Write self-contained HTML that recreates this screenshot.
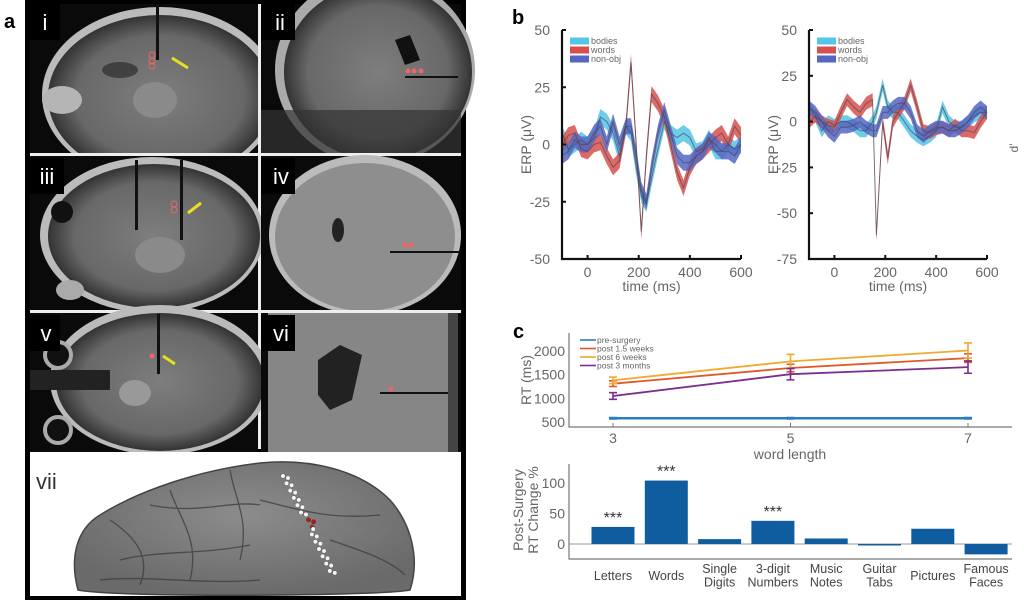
<!DOCTYPE html>
<html><head><meta charset="utf-8"><style>
html,body{margin:0;padding:0;background:#fff;}
svg{display:block;font-family:"Liberation Sans",sans-serif;}
</style></head><body>
<svg id="fig" width="1024" height="604" viewBox="0 0 1024 604" xmlns="http://www.w3.org/2000/svg">
<defs>
<radialGradient id="mriG" cx="50%" cy="50%" r="50%"><stop offset="0" stop-color="#7e7e7e"/><stop offset="0.75" stop-color="#686868"/><stop offset="1" stop-color="#333"/></radialGradient>
<radialGradient id="surfG" cx="50%" cy="40%" r="60%"><stop offset="0" stop-color="#8c8c8c"/><stop offset="1" stop-color="#6a6a6a"/></radialGradient>
</defs>

<g>
<text x="4" y="28" font-size="20" font-weight="bold">a</text>
<rect x="25" y="0" width="441" height="600" fill="#000"/>
<g>
<rect x="30" y="4" width="228" height="149" fill="#0a0a0a"/>
<ellipse cx="160" cy="95" rx="118" ry="88" fill="#bbb"/>
<ellipse cx="160" cy="97" rx="112" ry="82" fill="url(#mriG)"/>
<ellipse cx="62" cy="100" rx="20" ry="14" fill="#b5b5b5"/>
<ellipse cx="120" cy="70" rx="18" ry="8" fill="#222" opacity="0.6"/>
<ellipse cx="155" cy="100" rx="22" ry="18" fill="#8a8a8a"/>
<rect x="156" y="5" width="3" height="55" fill="#111"/>
<circle cx="152" cy="55" r="3" fill="none" stroke="#e66"/><circle cx="152" cy="61" r="3" fill="none" stroke="#e66"/><circle cx="152" cy="66" r="3" fill="none" stroke="#e66"/>
<line x1="172" y1="58" x2="188" y2="68" stroke="#e5e020" stroke-width="3"/>
<rect x="30" y="4" width="30" height="36" fill="#000"/><text x="45" y="30" fill="#fff" font-size="22" text-anchor="middle">i</text>
</g>
<g>
<rect x="261" y="4" width="200" height="149" fill="#0a0a0a"/>
<ellipse cx="375" cy="70" rx="100" ry="95" fill="#aaa"/>
<ellipse cx="378" cy="72" rx="94" ry="88" fill="url(#mriG)"/>
<rect x="261" y="110" width="200" height="43" fill="#333" opacity="0.7"/>
<path d="M395 40 L410 35 L420 60 L405 65 Z" fill="#111"/>
<line x1="405" y1="77" x2="458" y2="77" stroke="#111" stroke-width="2"/>
<circle cx="408" cy="71" r="2.5" fill="#e66"/><circle cx="414" cy="71" r="2.5" fill="#e66"/><circle cx="421" cy="71" r="2.5" fill="#e66"/>
<rect x="261" y="4" width="34" height="36" fill="#000"/><text x="280" y="30" fill="#fff" font-size="22" text-anchor="middle">ii</text>
</g>
<rect x="30" y="153" width="431" height="3" fill="#eee"/>
<rect x="258" y="4" width="3" height="445" fill="#eee"/>
<g>
<rect x="30" y="156" width="228" height="154" fill="#0a0a0a"/>
<ellipse cx="152" cy="235" rx="112" ry="78" fill="#bbb"/>
<ellipse cx="154" cy="236" rx="106" ry="72" fill="url(#mriG)"/>
<circle cx="62" cy="212" r="11" fill="#111"/><ellipse cx="70" cy="290" rx="14" ry="10" fill="#aaa"/>
<ellipse cx="160" cy="255" rx="25" ry="18" fill="#8a8a8a"/>
<rect x="135" y="160" width="3" height="70" fill="#111"/><rect x="180" y="160" width="3" height="80" fill="#111"/>
<circle cx="174" cy="204" r="3" fill="none" stroke="#e66"/><circle cx="174" cy="210" r="3" fill="none" stroke="#e66"/>
<line x1="188" y1="213" x2="201" y2="203" stroke="#e5e020" stroke-width="3"/>
<rect x="30" y="158" width="34" height="36" fill="#000"/><text x="47" y="184" fill="#fff" font-size="22" text-anchor="middle">iii</text>
</g>
<g>
<rect x="261" y="156" width="200" height="154" fill="#0a0a0a"/>
<ellipse cx="365" cy="235" rx="96" ry="80" fill="#bbb"/>
<ellipse cx="365" cy="237" rx="90" ry="74" fill="#8e8e8e"/>
<ellipse cx="338" cy="230" rx="6" ry="12" fill="#222"/>
<line x1="390" y1="252" x2="460" y2="252" stroke="#111" stroke-width="2"/>
<circle cx="405" cy="245" r="2.5" fill="#e66"/><circle cx="411" cy="245" r="2.5" fill="#e66"/>
<rect x="261" y="158" width="34" height="36" fill="#000"/><text x="281" y="184" fill="#fff" font-size="22" text-anchor="middle">iv</text>
</g>
<rect x="30" y="310" width="431" height="3" fill="#eee"/>
<g>
<rect x="30" y="313" width="228" height="139" fill="#0a0a0a"/>
<ellipse cx="160" cy="380" rx="110" ry="75" fill="#bbb"/>
<ellipse cx="160" cy="382" rx="104" ry="69" fill="url(#mriG)"/>
<circle cx="58" cy="355" r="13" fill="#111" stroke="#aaa" stroke-width="4"/><circle cx="58" cy="430" r="13" fill="#111" stroke="#aaa" stroke-width="4"/>
<rect x="30" y="370" width="80" height="20" fill="#222"/>
<ellipse cx="135" cy="393" rx="16" ry="13" fill="#999"/>
<rect x="157" y="314" width="3" height="60" fill="#111"/>
<circle cx="152" cy="356" r="2.5" fill="#e66"/>
<line x1="163" y1="356" x2="175" y2="364" stroke="#e5e020" stroke-width="3"/>
<rect x="30" y="315" width="30" height="36" fill="#000"/><text x="46" y="341" fill="#fff" font-size="22" text-anchor="middle">v</text>
</g>
<g>
<rect x="261" y="313" width="200" height="139" fill="#0a0a0a"/>
<rect x="268" y="313" width="180" height="139" fill="#868686"/>
<path d="M318 360 L340 345 L362 355 L352 400 L330 410 L318 395 Z" fill="#222"/>
<line x1="380" y1="393" x2="455" y2="393" stroke="#111" stroke-width="2"/>
<circle cx="391" cy="389" r="2.5" fill="#e66"/>
<rect x="448" y="313" width="10" height="139" fill="#444"/>
<rect x="261" y="315" width="34" height="36" fill="#000"/><text x="281" y="341" fill="#fff" font-size="22" text-anchor="middle">vi</text>
</g>
<g>
<rect x="30" y="452" width="431" height="144" fill="#fff"/>
<path d="M78 590 C70 560 75 530 100 515 C140 490 200 470 260 463 C310 458 360 470 390 500 C412 525 420 560 410 590 C380 596 120 598 78 590 Z" fill="url(#surfG)" stroke="#444" stroke-width="1.5"/>
<path d="M110 520 C140 540 150 560 140 585 M170 490 C180 520 200 540 190 580 M230 470 C235 500 250 520 240 560 M120 560 C160 550 200 555 250 545 M260 500 C300 510 330 520 380 515 M330 540 C360 550 390 560 405 575 M150 505 C200 515 230 500 260 505 M100 580 C150 575 200 585 260 580" fill="none" stroke="#3f3f3f" stroke-width="1.3" opacity="0.8"/>
<g id="dots"></g>
<text x="36" y="489" font-size="22" fill="#333">vii</text>
</g>
</g>

<text x="512" y="24" font-size="20" font-weight="bold">b</text>
<g id="erpL"></g>
<g id="erpR"></g>
<text x="1018" y="148" font-size="12" fill="#666" transform="rotate(-90 1018 148)" text-anchor="middle">d'</text>

<text x="513" y="338" font-size="20" font-weight="bold">c</text>
<g id="rtChart"></g>
<g id="barChart"></g>
</svg>

<script>
const erpTimesL = [-100,-75,-50,-25,0,25,50,75,100,125,150,170,190,210,230,250,275,300,325,350,375,400,425,450,475,500,525,550,575,600];
const erpBodiesL = [5,-2,0,2,0,3,12,10,5,-5,8,5,-10,-22,-26,-15,-2,10,5,3,5,3,-3,-2,3,-3,-3,0,-2,0];
const erpWordsL = [0,4,5,-2,-3,0,1,-5,-10,-7,8,36,0,-38,-5,22,18,12,0,-12,-19,-10,-5,-3,0,3,5,0,8,4];
const erpNonobjL = [-5,-3,2,0,0,5,8,0,10,0,8,8,-5,-20,-25,-10,5,15,5,-5,-8,-8,-5,-3,2,0,-3,-3,-5,0];
const erpTimesR = [-100,-75,-50,-25,0,25,50,75,100,125,150,165,190,210,230,250,275,300,325,350,375,400,425,450,475,500,525,550,575,600];
const erpBodiesR = [8,3,-5,0,-2,0,0,-2,-5,-5,0,5,20,8,5,5,0,-5,-8,-10,-8,-5,8,0,-3,-3,0,3,5,5];
const erpWordsR = [0,3,0,-2,-3,5,12,8,5,10,12,-62,0,-20,0,5,10,20,8,-5,-6,-4,-3,-5,-2,-5,-5,-6,0,5];
const erpNonobjR = [8,5,0,-5,-8,-3,-3,-2,0,-3,-5,-5,5,5,8,10,10,5,-5,-8,-5,-3,-3,-5,-5,-3,0,5,8,5];
const erpXTicks = [0,200,400,600];
const erpYTicksL = [-50,-25,0,25,50];
const erpYTicksR = [-75,-50,-25,0,25,50];
const erpLegend = ["bodies","words","non-obj"];

const wordLengths = [3,5,7];
const rtPre = [580,580,580];
const rtPost15w = [1310,1640,1850];
const rtPost6w = [1380,1780,2010];
const rtPost3m = [1050,1510,1660];
const errPost15w = [60,80,90];
const errPost6w = [70,150,160];
const errPost3m = [70,120,130];
const rtYTicks = [500,1000,1500,2000];
const rtLegend = ["pre-surgery","post 1.5 weeks","post 6 weeks","post 3 months"];

const barCategories = [["Letters"],["Words"],["Single","Digits"],["3-digit","Numbers"],["Music","Notes"],["Guitar","Tabs"],["Pictures"],["Famous","Faces"]];
const barValues = [28,104,8,38,9,-2,25,-17];
const barStars = ["***","***","","***","","","",""];
const barYTicks = [0,50,100];

const NS="http://www.w3.org/2000/svg";
function mk(parent,tag,attrs,text){const e=document.createElementNS(NS,tag);for(const k in attrs)e.setAttribute(k,attrs[k]);if(text!==undefined)e.textContent=text;parent.appendChild(e);return e;}

(function(){
  const g=document.getElementById('dots');
  for(let i=0;i<14;i++){
    for(let j=0;j<2;j++){
      const x=283+i*3.6+j*5, y=476+i*7.3+(j?2:0);
      const red=(i===6&&j===0)||(i===6&&j===1)||(i===7&&j===0);
      const c=mk(g,'circle',{cx:x+(red?4:0),cy:y,r:2.3,fill:red?'#b01a10':'#f4f4f4',stroke:'#555','stroke-width':0.5});
      
      
    }
  }
})();

const COL={bodies:'#55c6e6',words:'#d8504e',nonobj:'#5566c4'};

function erpChart(gid,times,series,yTicks,x0,x1,yTop,yBot,vTop,vBot,ylabX,tickX){
  const g=document.getElementById(gid);
  const xs=t=>x0+(t+100)*(x1-x0)/700;
  const ys=v=>yTop+(vTop-v)*(yBot-yTop)/(vTop-vBot);
  const names=['bodies','words','nonobj'];
  series.forEach((vals,si)=>{
    const c=COL[names[si]];
    let up='',dn='';
    vals.forEach((v,i)=>{up+=(i?'L':'M')+xs(times[i]).toFixed(1)+' '+ys(v+3.5).toFixed(1)+' ';});
    for(let i=vals.length-1;i>=0;i--)dn+='L'+xs(times[i]).toFixed(1)+' '+ys(vals[i]-3.5).toFixed(1)+' ';
    const band=mk(g,'path',{d:up+dn+'Z',fill:c,opacity:0.85,'stroke-linejoin':'round'});
    
    
  });
  series.forEach((vals,si)=>{
    let d='';vals.forEach((v,i)=>{d+=(i?'L':'M')+xs(times[i]).toFixed(1)+' '+ys(v).toFixed(1)+' ';});
    const ln=mk(g,'path',{d:d,fill:'none',stroke:'#4a4a5a','stroke-width':1,opacity:0.7});
    
    
  });
  const ax=mk(g,'path',{d:`M${x0} ${yTop} L${x0} ${yBot} L${x1} ${yBot}`,fill:'none',stroke:'#111','stroke-width':2.2});
  
  
  yTicks.forEach(v=>{
    mk(g,'line',{x1:x0,x2:x0+4,y1:ys(v),y2:ys(v),stroke:'#111','stroke-width':2});
    const t=mk(g,'text',{x:tickX,y:ys(v)+5,'font-size':14,fill:'#666','text-anchor':'end'},String(v));
    
    
  });
  erpXTicks.forEach(v=>{
    mk(g,'line',{x1:xs(v),x2:xs(v),y1:yBot,y2:yBot-4,stroke:'#111','stroke-width':2});
    const t=mk(g,'text',{x:xs(v),y:yBot+18,'font-size':14,fill:'#666','text-anchor':'middle'},String(v));
    
    
  });
  const xl=mk(g,'text',{x:(x0+x1)/2,y:yBot+32,'font-size':14,fill:'#666','text-anchor':'middle'},'time (ms)');
  
  
  const cy=(yTop+yBot)/2;
  const yl=mk(g,'text',{x:ylabX,y:cy,'font-size':14,fill:'#666','text-anchor':'middle',transform:`rotate(-90 ${ylabX} ${cy})`},'ERP (μV)');
  
  
  erpLegend.forEach((n,i)=>{
    const y=yTop+11+i*9;
    const r=mk(g,'rect',{x:x0+8,y:y-3.5,width:19,height:7,fill:COL[names[i]]});
    
    
    const t=mk(g,'text',{x:x0+29,y:y+3,'font-size':9,fill:'#666'},n);
    
    
  });
}
erpChart('erpL',erpTimesL,[erpBodiesL,erpWordsL,erpNonobjL],erpYTicksL,562,741,30,259,50,-50,531,550);
erpChart('erpR',erpTimesR,[erpBodiesR,erpWordsR,erpNonobjR],erpYTicksR,809,987,30,259,50,-75,778,797);

(function(){
  const g=document.getElementById('rtChart');
  const xs=L=>613+(L-3)*(968-613)/4;
  const ys=v=>422-(v-500)*71/1500;
  const ax=mk(g,'path',{d:'M569 333 L569 427 L1012 427',fill:'none',stroke:'#777','stroke-width':1.2});
  
  
  rtYTicks.forEach(v=>{
    const t=mk(g,'text',{x:565,y:ys(v)+5,'font-size':14,fill:'#666','text-anchor':'end'},String(v));
    
    
  });
  wordLengths.forEach(L=>{
    mk(g,'line',{x1:xs(L),x2:xs(L),y1:427,y2:423,stroke:'#777'});
    const t=mk(g,'text',{x:xs(L),y:443,'font-size':14,fill:'#666','text-anchor':'middle'},String(L));
    
    
  });
  const xl=mk(g,'text',{x:790,y:459,'font-size':14,fill:'#666','text-anchor':'middle'},'word length');
  
  
  const yl=mk(g,'text',{x:531,y:380,'font-size':14,fill:'#666','text-anchor':'middle',transform:'rotate(-90 531 380)'},'RT (ms)');
  
  
  const S=[[rtPre,null,'#2b7cc2','pre-surgery'],[rtPost15w,errPost15w,'#e0572a','post-1-5-weeks'],[rtPost6w,errPost6w,'#f0aa2e','post-6-weeks'],[rtPost3m,errPost3m,'#7d2d8f','post-3-months']];
  S.forEach(([vals,err,c,nm])=>{
    let d='';vals.forEach((v,i)=>{d+=(i?'L':'M')+xs(wordLengths[i])+' '+ys(v).toFixed(1)+' ';});
    const p=mk(g,'path',{d:d,fill:'none',stroke:c,'stroke-width':nm==='pre-surgery'?2.5:1.8});
    
    
    vals.forEach((v,i)=>{
      const x=xs(wordLengths[i]);
      const e=err?err[i]:15;
      const eb=mk(g,'path',{d:`M${x} ${ys(v+e)} L${x} ${ys(v-e)} M${x-4} ${ys(v+e)} L${x+4} ${ys(v+e)} M${x-4} ${ys(v-e)} L${x+4} ${ys(v-e)}`,stroke:c,'stroke-width':1.6,fill:'none'});
      
      
    });
  });
  rtLegend.forEach((n,i)=>{
    const y=340+i*8.5;
    mk(g,'line',{x1:580,x2:596,y1:y,y2:y,stroke:S[i][2],'stroke-width':1.6});
    const t=mk(g,'text',{x:597,y:y+3,'font-size':8.5,fill:'#666'},n);
    
    
  });
})();

(function(){
  const g=document.getElementById('barChart');
  const ys=v=>544-v*0.61;
  const xc=i=>613+i*53.3;
  const ax=mk(g,'path',{d:'M569 464 L569 559 L1012 559',fill:'none',stroke:'#777','stroke-width':1.2});
  
  
  mk(g,'line',{x1:569,x2:1012,y1:ys(0),y2:ys(0),stroke:'#999','stroke-width':1});
  barYTicks.forEach(v=>{
    const t=mk(g,'text',{x:565,y:ys(v)+5,'font-size':14,fill:'#666','text-anchor':'end'},String(v));
    
    
  });
  barValues.forEach((v,i)=>{
    const y0=Math.min(ys(v),ys(0)), h=Math.max(Math.abs(ys(v)-ys(0)),1.5);
    const r=mk(g,'rect',{x:xc(i)-21.5,y:y0,width:43,height:h,fill:'#0f5c9e'});
    
    
    if(barStars[i]){
      const s=mk(g,'text',{x:xc(i),y:ys(v)-4,'font-size':16,fill:'#333','text-anchor':'middle'},barStars[i]);
      
      
    }
    const lines=barCategories[i];
    lines.forEach((ln,k)=>{
      const y=lines.length===1?580:573+k*13.5;
      const t=mk(g,'text',{x:xc(i),y:y,'font-size':12.5,fill:'#444','text-anchor':'middle'},ln);
      
      
    });
  });
  const y1=mk(g,'text',{x:523,y:510,'font-size':14,fill:'#666','text-anchor':'middle',transform:'rotate(-90 523 510)'},'Post-Surgery');
  
  
  const y2=mk(g,'text',{x:538,y:510,'font-size':14,fill:'#666','text-anchor':'middle',transform:'rotate(-90 538 510)'},'RT Change %');
  
  
})();
</script>
</body></html>
